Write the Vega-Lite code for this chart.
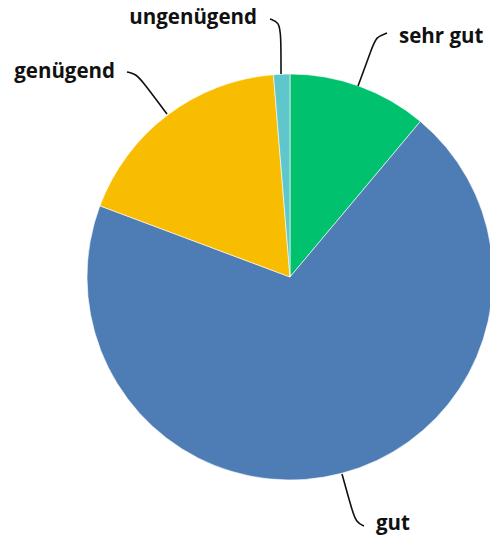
{
  "$schema": "https://vega.github.io/schema/vega-lite/v6.json",
  "width": 490,
  "height": 543,
  "padding": 0,
  "autosize": {"type": "none"},
  "background": "white",
  "config": {"view": {"stroke": null}},
  "datasets": {
    "slices": [
      {"i": 1, "cat": "sehr gut", "v": 11.1},
      {"i": 2, "cat": "gut", "v": 69.6},
      {"i": 3, "cat": "genügend", "v": 18.0},
      {"i": 4, "cat": "ungenügend", "v": 1.3}
    ],
    "labels": [
      {"cat": "sehr gut", "u": 0.5369, "w": 1.1823},
      {"cat": "gut", "u": 0.4236, "w": -1.2167},
      {"cat": "genügend", "u": -0.8621, "w": 1.0099},
      {"cat": "ungenügend", "u": -0.1626, "w": 1.2759}
    ],
    "leaders": [
      {"cat": "sehr gut", "s": 1, "u": 0.3350, "w": 0.9409},
      {"cat": "sehr gut", "s": 2, "u": 0.4039, "w": 1.1281},
      {"cat": "sehr gut", "s": 3, "u": 0.4236, "w": 1.1823},
      {"cat": "sehr gut", "s": 4, "u": 0.4778, "w": 1.2020},
      {"cat": "genügend", "s": 1, "u": -0.6059, "w": 0.8030},
      {"cat": "genügend", "s": 2, "u": -0.7241, "w": 0.9606},
      {"cat": "genügend", "s": 3, "u": -0.7586, "w": 1.0000},
      {"cat": "genügend", "s": 4, "u": -0.8030, "w": 1.0099},
      {"cat": "ungenügend", "s": 1, "u": -0.0443, "w": 1.0000},
      {"cat": "ungenügend", "s": 2, "u": -0.0443, "w": 1.1921},
      {"cat": "ungenügend", "s": 3, "u": -0.0542, "w": 1.2562},
      {"cat": "ungenügend", "s": 4, "u": -0.0985, "w": 1.2709},
      {"cat": "gut", "s": 1, "u": 0.2562, "w": -0.9704},
      {"cat": "gut", "s": 2, "u": 0.3054, "w": -1.1478},
      {"cat": "gut", "s": 3, "u": 0.3251, "w": -1.2069},
      {"cat": "gut", "s": 4, "u": 0.3645, "w": -1.2266}
    ]
  },
  "layer": [
    {
      "data": {"name": "slices"},
      "mark": {"type": "arc", "outerRadius": 203, "stroke": "white", "strokeWidth": 0.6},
      "encoding": {
        "theta": {"field": "v", "type": "quantitative", "stack": true},
        "order": {"field": "i", "type": "quantitative"},
        "color": {
          "field": "cat",
          "type": "nominal",
          "scale": {
            "domain": ["sehr gut", "gut", "genügend", "ungenügend"],
            "range": ["#00c16e", "#4e7db6", "#f8bc00", "#5fc7cb"]
          },
          "legend": null
        },
        "x": {"datum": 0, "type": "quantitative", "scale": {"domain": [-1.4286, 0.9852], "nice": false, "zero": false}, "axis": null},
        "y": {"datum": 0, "type": "quantitative", "scale": {"domain": [-1.3103, 1.3645], "nice": false, "zero": false}, "axis": null}
      }
    },
    {
      "data": {"name": "leaders"},
      "mark": {"type": "line", "interpolate": "basis", "color": "#111111", "strokeWidth": 1.6},
      "encoding": {
        "x": {"field": "u", "type": "quantitative"},
        "y": {"field": "w", "type": "quantitative"},
        "detail": {"field": "cat"},
        "order": {"field": "s", "type": "quantitative"}
      }
    },
    {
      "data": {"name": "labels"},
      "transform": [{"filter": {"field": "cat", "oneOf": ["sehr gut", "gut"]}}],
      "mark": {"type": "text", "align": "left", "baseline": "middle", "font": "Open Sans", "fontWeight": "bold", "fontSize": 20.5, "color": "#111111"},
      "encoding": {
        "x": {"field": "u", "type": "quantitative"},
        "y": {"field": "w", "type": "quantitative"},
        "text": {"field": "cat"}
      }
    },
    {
      "data": {"name": "labels"},
      "transform": [{"filter": {"field": "cat", "oneOf": ["genügend", "ungenügend"]}}],
      "mark": {"type": "text", "align": "right", "baseline": "middle", "font": "Open Sans", "fontWeight": "bold", "fontSize": 20.5, "color": "#111111"},
      "encoding": {
        "x": {"field": "u", "type": "quantitative"},
        "y": {"field": "w", "type": "quantitative"},
        "text": {"field": "cat"}
      }
    }
  ]
}
